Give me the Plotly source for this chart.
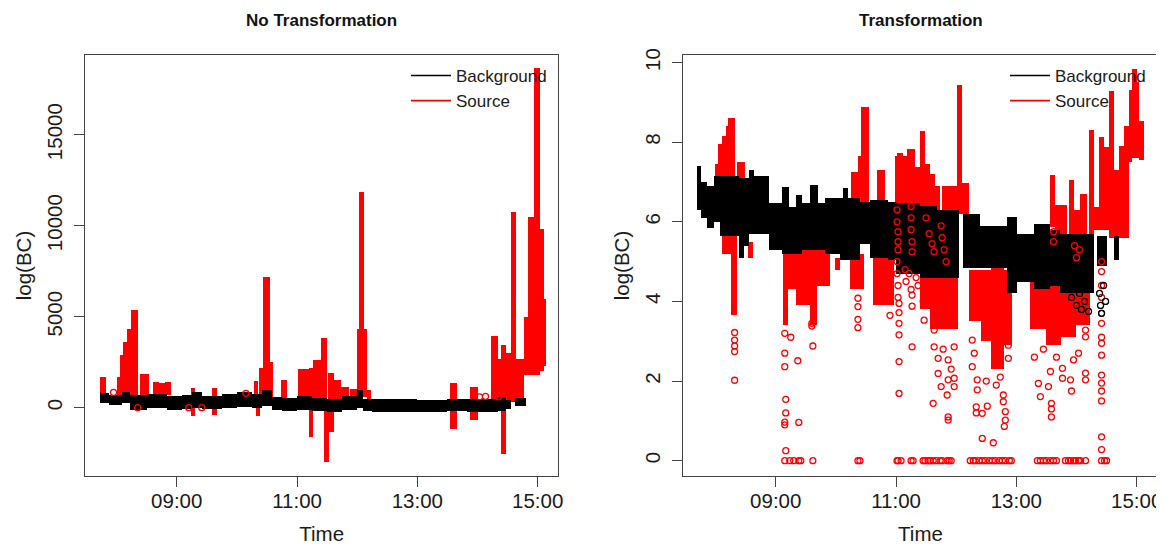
import plotly.graph_objects as go

# ---------------- text / ticks ----------------
panel_titles = ["No Transformation", "Transformation"]
series_names = ["Background", "Source"]
y_title = "log(BC)"
x_title = "Time"
time_tick_labels = ["09:00", "11:00", "13:00", "15:00"]
raw_tick_values = [0, 5000, 10000, 15000]
log_tick_values = [0, 2, 4, 6, 8, 10]

# ---------------- left panel: untransformed BC ----------------
# dense bands of points: (start, end, low, high)
raw_background_bands = [
    ("07:43", "07:52", 250, 800), ("07:52", "08:05", 150, 700), ("08:05", "08:13", 250, 850),
    ("08:13", "08:30", -150, 700), ("08:30", "08:50", 0, 780), ("08:50", "09:05", -100, 650),
    ("09:05", "09:15", -50, 700), ("09:15", "09:25", 0, 880), ("09:25", "09:45", -50, 650),
    ("09:45", "10:00", 0, 750), ("10:00", "10:15", 50, 850), ("10:15", "10:25", 0, 750),
    ("10:25", "10:35", 100, 950), ("10:35", "10:45", -150, 600), ("10:45", "11:00", -200, 550),
    ("11:00", "11:15", -150, 650), ("11:15", "11:30", -200, 550), ("11:30", "11:45", -250, 500),
    ("11:45", "12:00", -100, 650), ("12:00", "12:06", 0, 950), ("12:06", "12:15", -200, 500),
    ("12:15", "13:00", -250, 480), ("13:00", "13:30", -250, 420), ("13:30", "13:50", -200, 480),
    ("13:50", "14:20", -250, 480), ("14:20", "14:28", -200, 600), ("14:28", "14:33", -50, 450),
    ("14:37", "14:48", 100, 550),
]
raw_source_bands = [
    ("07:43", "07:49", 700, 1700), ("08:00", "08:04", 700, 1700), ("08:03", "08:07", 700, 2900),
    ("08:06", "08:10", 700, 3600), ("08:10", "08:14", 700, 4350), ("08:14", "08:21", 700, 5350),
    ("08:23", "08:32", 700, 1850), ("08:36", "08:42", 700, 1430), ("08:42", "08:48", 700, 1350),
    ("08:48", "08:54", 700, 1400), ("09:14", "09:18", -450, 1060), ("09:35", "09:40", -400, 1060),
    ("10:17", "10:21", 600, 1450), ("10:19", "10:23", -450, 100), ("10:22", "10:27", 600, 2200),
    ("10:26", "10:33", 600, 7200), ("10:33", "10:36", 600, 2500), ("10:44", "10:50", 500, 1520),
    ("11:01", "11:07", 500, 2100), ("11:07", "11:12", 500, 2100), ("11:12", "11:16", -1600, 2200),
    ("11:16", "11:24", 500, 2600), ("11:24", "11:30", 500, 3850), ("11:27", "11:32", -3000, 500),
    ("11:31", "11:37", -1350, 1900), ("11:37", "11:44", 500, 1500), ("11:44", "11:52", 500, 1150),
    ("11:53", "12:00", 600, 1050), ("12:00", "12:03", 600, 4300), ("12:02", "12:07", 600, 11850),
    ("12:07", "12:10", 600, 4300), ("12:10", "12:14", 500, 1000), ("13:33", "13:40", -1150, 1350),
    ("13:53", "14:00", -700, 1150), ("14:13", "14:20", 300, 3950), ("14:19", "14:23", 300, 2650),
    ("14:23", "14:28", -2550, 3450), ("14:28", "14:33", 300, 3000), ("14:33", "14:38", 300, 10750),
    ("14:38", "14:46", 300, 2700), ("14:46", "14:50", 1800, 5000), ("14:50", "14:56", 1800, 10500),
    ("14:56", "15:02", 1800, 18650), ("15:02", "15:06", 2000, 9800), ("15:06", "15:08", 2300, 6000),
]
raw_source_points = [
    ("07:57", 840), ("08:21", 0), ("09:12", 0), ("09:25", 0), ("10:09", 790),
    ("14:02", 600), ("14:08", 620), ("14:21", 600),
]

# ---------------- right panel: log-transformed BC ----------------
log_background_bands = [
    ("07:42", "07:46", 6.3, 7.4), ("07:46", "07:52", 6.1, 7.0), ("07:52", "07:59", 5.85, 6.9),
    ("07:59", "08:05", 6.0, 7.15), ("08:05", "08:24", 5.65, 7.15), ("08:24", "08:29", 5.1, 7.1),
    ("08:29", "08:34", 5.4, 7.1), ("08:34", "08:39", 5.7, 7.3), ("08:39", "08:54", 5.7, 7.15),
    ("08:54", "09:07", 5.3, 6.47), ("09:07", "09:14", 5.2, 6.88), ("09:14", "09:21", 5.2, 6.38),
    ("09:21", "09:26", 5.2, 6.67), ("09:26", "09:34", 5.3, 6.47), ("09:34", "09:42", 5.3, 6.92),
    ("09:42", "09:49", 5.3, 6.47), ("09:49", "10:04", 5.2, 6.6), ("10:04", "10:07", 5.05, 6.6),
    ("10:07", "10:12", 5.05, 6.84), ("10:12", "10:24", 5.05, 6.6), ("10:24", "10:34", 5.45, 6.5),
    ("10:34", "10:52", 5.1, 6.54), ("10:52", "11:00", 5.05, 6.5), ("11:00", "11:24", 4.7, 6.47),
    ("11:24", "11:41", 4.6, 6.4), ("11:41", "12:03", 4.6, 6.3), ("12:07", "12:24", 4.85, 6.2),
    ("12:24", "12:51", 4.85, 5.9), ("12:51", "13:01", 4.2, 6.13), ("13:01", "13:18", 4.5, 5.7),
    ("13:18", "13:34", 4.3, 5.95), ("13:34", "13:44", 4.4, 5.8), ("13:44", "14:18", 4.2, 5.7),
    ("14:21", "14:31", 4.9, 5.65), ("14:38", "14:43", 5.05, 5.65),
]
log_source_upper_bands = [
    ("08:00", "08:03", 7.1, 7.45), ("08:03", "08:07", 7.1, 7.95), ("08:07", "08:11", 7.1, 8.15),
    ("08:11", "08:13", 7.1, 8.4), ("08:13", "08:20", 7.1, 8.6), ("08:22", "08:30", 7.0, 7.5),
    ("10:15", "10:22", 6.5, 7.25), ("10:22", "10:25", 6.5, 7.65), ("10:25", "10:33", 6.4, 8.89),
    ("10:41", "10:49", 6.5, 7.3),
    ("10:59", "11:01", 6.4, 7.65), ("11:01", "11:07", 6.4, 7.72), ("11:07", "11:11", 6.4, 7.65),
    ("11:11", "11:19", 6.4, 7.84), ("11:19", "11:24", 6.4, 7.38), ("11:24", "11:29", 6.4, 8.27),
    ("11:29", "11:34", 6.4, 7.45), ("11:34", "11:39", 6.3, 7.2), ("11:39", "11:44", 6.3, 6.9),
    ("11:46", "12:01", 6.2, 6.9), ("12:01", "12:06", 6.2, 9.44), ("12:06", "12:13", 6.2, 6.97),
    ("13:34", "13:39", 5.87, 7.18), ("13:39", "13:51", 5.6, 6.42), ("13:53", "13:58", 5.6, 7.05),
    ("13:58", "14:04", 5.6, 6.3), ("14:04", "14:11", 5.6, 6.7), ("14:13", "14:18", 5.6, 8.3),
    ("14:18", "14:23", 5.8, 6.38), ("14:23", "14:28", 5.8, 8.13), ("14:28", "14:33", 5.8, 7.88),
    ("14:33", "14:38", 5.6, 9.28), ("14:38", "14:43", 5.6, 7.3), ("14:43", "14:48", 5.6, 7.9),
    ("14:48", "14:53", 5.6, 8.4), ("14:53", "14:56", 7.5, 9.3), ("14:56", "15:01", 7.6, 9.85),
    ("15:01", "15:03", 7.6, 9.5), ("15:03", "15:08", 7.55, 8.54),
]
log_source_lower_bands = [
    ("08:07", "08:16", 5.2, 5.65), ("08:16", "08:22", 3.65, 5.65), ("08:33", "08:38", 5.1, 5.5),
    ("09:08", "09:13", 3.4, 5.3), ("09:13", "09:21", 4.3, 5.4), ("09:21", "09:34", 3.9, 5.4),
    ("09:34", "09:41", 3.4, 5.5), ("09:41", "09:54", 4.4, 5.3), ("09:59", "10:04", 4.8, 5.1),
    ("10:14", "10:28", 4.3, 5.2), ("10:37", "10:58", 3.9, 5.1),
    ("11:24", "11:34", 3.8, 5.2), ("11:34", "12:02", 3.3, 5.2),
    ("12:13", "12:25", 3.5, 4.8), ("12:25", "12:35", 3.0, 4.8), ("12:35", "12:48", 2.3, 4.9),
    ("12:48", "12:56", 2.9, 4.8),
    ("13:14", "13:30", 3.3, 4.5), ("13:30", "13:45", 2.9, 4.4), ("13:45", "14:00", 3.1, 4.3),
    ("14:00", "14:14", 3.4, 4.3),
]
log_source_points = [
    ("08:19", 3.22), ("08:19", 3.03), ("08:19", 2.88), ("08:19", 2.74), ("08:19", 2.02),
    ("09:09", 3.2), ("09:09", 2.7), ("09:09", 2.36), ("09:10", 1.54), ("09:10", 1.2),
    ("09:09", 0.97), ("09:09", 0.9), ("09:10", 0.25), ("09:15", 3.1), ("09:22", 2.51),
    ("09:23", 0.96), ("09:37", 2.88), ("09:36", 3.45), ("09:36", 3.38),
    ("10:22", 4.08), ("10:22", 3.87), ("10:22", 3.55), ("10:22", 3.34), ("10:54", 3.65),
    ("11:01", 5.0), ("11:01", 4.7), ("11:02", 4.4), ("11:02", 4.1), ("11:03", 3.95),
    ("11:03", 3.72), ("11:03", 3.45), ("11:03", 3.16), ("11:03", 2.49), ("11:03", 1.69),
    ("11:09", 4.8), ("11:10", 4.5), ("11:13", 4.7), ("11:15", 4.3), ("11:16", 4.16),
    ("11:16", 3.88), ("11:16", 2.86), ("11:20", 4.6), ("11:22", 4.4),
    ("11:27", 4.0), ("11:28", 3.53), ("11:37", 1.44), ("11:38", 2.86), ("11:38", 3.28),
    ("11:42", 2.57), ("11:42", 2.19), ("11:45", 1.86), ("11:51", 1.65), ("11:52", 1.1),
    ("11:52", 1.02), ("11:52", 2.53), ("11:52", 2.03), ("11:58", 2.86), ("11:58", 2.07),
    ("11:58", 1.86), ("11:55", 2.3), ("11:47", 2.8),
    ("12:16", 3.03), ("12:16", 2.36), ("12:21", 2.03), ("12:21", 1.78), ("12:20", 1.35),
    ("12:20", 1.2), ("12:26", 0.56), ("12:26", 1.19), ("12:31", 1.37), ("12:37", 0.45),
    ("12:47", 1.65), ("12:47", 1.48), ("12:49", 1.23), ("12:49", 1.02), ("12:48", 0.86),
    ("12:52", 2.9), ("12:52", 2.57), ("12:18", 2.7), ("12:30", 2.0), ("12:40", 1.9), ("12:44", 2.1),
    ("13:22", 1.94), ("13:24", 1.61), ("13:32", 1.86), ("13:35", 1.44), ("13:35", 1.3),
    ("13:35", 1.1), ("13:34", 2.24), ("13:46", 2.32), ("13:46", 2.07), ("13:54", 2.03),
    ("13:55", 1.75), ("13:57", 2.53), ("14:09", 2.2), ("14:09", 2.03), ("14:09", 3.28),
    ("14:09", 3.11), ("13:18", 2.6), ("13:27", 2.8), ("13:40", 2.6), ("14:02", 2.7),
    ("14:25", 5.0), ("14:25", 4.75), ("14:25", 4.4), ("14:25", 4.1), ("14:25", 3.7),
    ("14:25", 3.45), ("14:25", 3.1), ("14:25", 2.95), ("14:25", 2.65), ("14:25", 2.15),
    ("14:25", 1.95), ("14:25", 1.75), ("14:25", 1.5), ("14:25", 0.6), ("14:25", 0.28),
    ("11:01", 6.3), ("11:01", 6.0), ("11:02", 5.75), ("11:02", 5.5), ("11:02", 5.3),
    ("11:15", 6.38), ("11:15", 6.1), ("11:15", 5.8), ("11:16", 5.5), ("11:16", 5.25),
    ("11:30", 6.1), ("11:33", 5.7), ("11:36", 5.45), ("11:38", 5.25), ("11:45", 5.9),
    ("11:46", 5.6), ("11:48", 5.3), ("11:50", 5.0), ("13:37", 6.0), ("13:37", 5.75),
    ("13:37", 5.5), ("13:58", 5.4), ("14:00", 5.1), ("14:03", 5.3),
]
log_source_zero_times = [
    "09:09", "09:14", "09:18", "09:23", "09:25", "09:37", "10:22", "10:24",
    "11:01", "11:02", "11:05", "11:15", "11:17", "11:27", "11:29", "11:32", "11:34",
    "11:37", "11:40", "11:44", "11:46", "11:51", "11:53", "11:55",
    "12:14", "12:17", "12:19", "12:23", "12:26", "12:29", "12:33", "12:36", "12:39",
    "12:43", "12:46", "12:49", "12:53", "12:55",
    "13:21", "13:24", "13:27", "13:30", "13:34", "13:37", "13:40",
    "13:49", "13:52", "13:54", "13:57", "13:59", "14:02", "14:04", "14:09",
    "14:25", "14:28", "14:30",
]
log_background_points = [
    ("13:52", 4.4), ("13:55", 4.1), ("14:00", 3.9), ("14:03", 4.2), ("14:05", 3.8),
    ("14:08", 4.0), ("14:12", 3.75), ("14:23", 4.2), ("14:24", 3.9), ("14:25", 3.7),
    ("14:27", 4.4), ("14:29", 4.0),
]

BLACK = "#000000"
RED = "#ff0000"
FONT = "Liberation Sans, Arial, sans-serif"
TXT = "#1a1a1a"


def to_min(hhmm):
    h, m = hhmm.split(":")
    return int(h) * 60 + int(m)


def band_trace(bands, color, xa, ya):
    starts = [to_min(b[0]) for b in bands]
    ends = [to_min(b[1]) for b in bands]
    return go.Bar(
        x=[(s + e) / 2 for s, e in zip(starts, ends)],
        width=[e - s for s, e in zip(starts, ends)],
        base=[b[2] for b in bands],
        y=[b[3] - b[2] for b in bands],
        marker=dict(color=color, line=dict(width=0)),
        xaxis=xa, yaxis=ya, showlegend=False, hoverinfo="skip",
    )


def point_trace(points, color, xa, ya):
    return go.Scatter(
        x=[to_min(p[0]) for p in points], y=[p[1] for p in points], mode="markers",
        marker=dict(symbol="circle-open", size=6, color=color, line=dict(width=1.3, color=color)),
        xaxis=xa, yaxis=ya, showlegend=False, hoverinfo="skip",
    )


fig = go.Figure()
# left panel
fig.add_trace(band_trace(raw_source_bands, RED, "x", "y"))
fig.add_trace(band_trace(raw_background_bands, BLACK, "x", "y"))
fig.add_trace(point_trace(raw_source_points, RED, "x", "y"))
# right panel
fig.add_trace(band_trace(log_source_upper_bands, RED, "x2", "y2"))
fig.add_trace(band_trace(log_source_lower_bands, RED, "x2", "y2"))
fig.add_trace(band_trace(log_background_bands, BLACK, "x2", "y2"))
fig.add_trace(point_trace(log_source_points, RED, "x2", "y2"))
fig.add_trace(point_trace([(t, 0) for t in log_source_zero_times], RED, "x2", "y2"))
fig.add_trace(point_trace(log_background_points, BLACK, "x2", "y2"))

# legends
for leg, xa, ya in (("legend", "x", "y"), ("legend2", "x2", "y2")):
    for name, col in zip(series_names, (BLACK, RED)):
        fig.add_trace(go.Scatter(x=[None], y=[None], mode="lines", name=name,
                                 line=dict(color=col, width=1.6), legend=leg,
                                 xaxis=xa, yaxis=ya))

W, H = 1164, 545
OFF = 8  # page body margin of the html page


def fx(px):
    return (px - OFF) / W


def fy(py):
    return 1 - (py - OFF) / H


xdom1 = [fx(85), fx(558.3)]
xdom2 = [fx(683.3), fx(1157.7)]
ydom = [fy(476), fy(55)]

axis_common = dict(showline=True, mirror=True, linecolor="#444", linewidth=1.3,
                   ticks="outside", ticklen=10, tickwidth=1.3, tickcolor="#444",
                   showgrid=False, zeroline=False,
                   tickfont=dict(size=20.5, color=TXT, family=FONT))
tick_vals = [to_min(t) for t in time_tick_labels]

xaxis_common = dict(axis_common, tickvals=tick_vals, ticktext=time_tick_labels,
                    title=dict(text=x_title, font=dict(size=20.5, family=FONT, color=TXT), standoff=15),
                    ticklabelstandoff=-4)
yaxis_common = dict(axis_common, tickangle=-90,
                    title=dict(text=y_title, font=dict(size=20.5, family=FONT, color=TXT), standoff=5),
                    ticklabelstandoff=4)

legend_common = dict(bgcolor="rgba(0,0,0,0)", borderwidth=0, font=dict(size=17, family=FONT, color=TXT),
                     xanchor="left", yanchor="top", tracegroupgap=0, itemwidth=40)

fig.update_layout(
    width=W, height=H, margin=dict(l=0, r=0, t=0, b=0, autoexpand=False),
    paper_bgcolor="white", plot_bgcolor="white", barmode="overlay", bargap=0,
    font=dict(family=FONT, color=TXT),
    xaxis=dict(xaxis_common, domain=xdom1, range=[448.5, 920.6], anchor="y"),
    yaxis=dict(yaxis_common, domain=ydom, range=[-3753, 19380], tickvals=raw_tick_values,
               ticktext=[str(v) for v in raw_tick_values], anchor="x"),
    xaxis2=dict(xaxis_common, domain=xdom2, range=[447.8, 921.0], anchor="y2"),
    yaxis2=dict(yaxis_common, domain=ydom, range=[-0.385, 10.19], tickvals=log_tick_values,
                ticktext=[str(v) for v in log_tick_values], anchor="x2"),
    legend=dict(legend_common, x=fx(406), y=fy(58)),
    legend2=dict(legend_common, x=fx(1005), y=fy(58)),
    annotations=[
        dict(text="<b>" + panel_titles[0] + "</b>", x=sum(xdom1) / 2, y=fy(21), xref="paper", yref="paper",
             showarrow=False, xanchor="center", yanchor="middle", font=dict(size=17, family=FONT, color="#111")),
        dict(text="<b>" + panel_titles[1] + "</b>", x=sum(xdom2) / 2, y=fy(21), xref="paper", yref="paper",
             showarrow=False, xanchor="center", yanchor="middle", font=dict(size=17, family=FONT, color="#111")),
    ],
)

fig.write_html("out.html")
